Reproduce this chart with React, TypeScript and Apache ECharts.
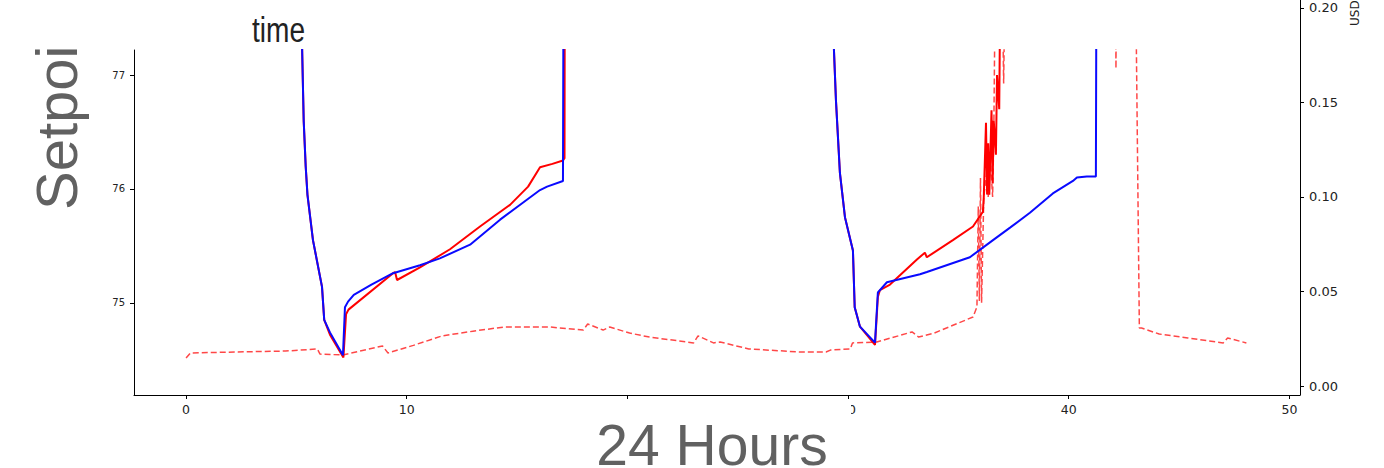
import React, { useEffect, useRef } from 'react';
import * as echarts from 'echarts';

// ---- tick values ----
const xTicks = [0, 10, 20, 30, 40, 50];
const xLabelTicks = [0, 10, 30, 40, 50];
const leftTicks = [75, 76, 77];
const rightTicks = [0, 0.05, 0.1, 0.15, 0.2];

// ---- series: [hour, setpoint °F]  (79 = beyond the top of the view) ----
const blueSetpoint: number[][] = [
  [0, 79], [5.2, 79], [5.26, 77.22], [5.33, 76.6], [5.42, 76.2], [5.5, 75.95], [5.75, 75.55], [6.0, 75.3],
  [6.16, 75.14], [6.26, 74.85], [6.52, 74.74], [7.11, 74.54], [7.2, 74.96], [7.34, 75.01],
  [7.6, 75.07], [8.4, 75.16], [9.38, 75.26], [10.6, 75.33], [11.5, 75.39], [12.87, 75.51], [14.23, 75.73],
  [15.2, 75.87], [16.04, 75.99], [16.36, 76.02], [17.08, 76.07], [17.12, 79], [29.22, 79],
  [29.36, 77.22], [29.45, 76.78], [29.63, 76.14], [29.86, 75.75], [30.22, 75.46], [30.3, 74.96],
  [30.54, 74.79], [31.22, 74.65], [31.35, 75.09], [31.76, 75.18], [33.26, 75.25], [33.57, 75.27],
  [35.52, 75.4], [36.43, 75.53], [37.34, 75.66], [38.24, 75.79], [39.28, 75.96], [40.19, 76.07],
  [40.37, 76.1], [40.82, 76.11], [41.23, 76.11], [41.27, 79], [48.05, 79],
];

const redSetpoint: number[][] = [
  [0, 79], [5.2, 79], [5.26, 77.22], [5.33, 76.6], [5.42, 76.2], [5.5, 75.95], [5.75, 75.55], [6.0, 75.3],
  [6.16, 75.14], [6.26, 74.85], [6.52, 74.72], [7.13, 74.52], [7.25, 74.9], [7.36, 74.94],
  [9.38, 75.26], [9.47, 75.27], [9.56, 75.2], [10.6, 75.31], [11.96, 75.47], [13.32, 75.67],
  [14.68, 75.86], [15.5, 76.02], [16.04, 76.19], [16.6, 76.22], [17.08, 76.25], [17.15, 76.27], [17.17, 79],
  [29.22, 79], [29.36, 77.22], [29.45, 76.78], [29.63, 76.14], [29.86, 75.75], [30.22, 75.46],
  [30.3, 74.96], [30.54, 74.79], [31.22, 74.63], [31.35, 75.05], [31.44, 75.11], [31.9, 75.16],
  [33.12, 75.38], [33.48, 75.44], [33.57, 75.4], [34.75, 75.55], [35.66, 75.67], [36.11, 75.8],
  [36.15, 75.93], [36.25, 76.58], [36.3, 75.95], [36.35, 76.4], [36.4, 75.95], [36.5, 76.69],
  [36.55, 76.05], [36.6, 76.6], [36.7, 76.3], [36.75, 77.0], [36.85, 76.7], [36.95, 79], [48.05, 79],
];

// ---- series: [hour, price USD] (0.25 = beyond the top of the view) ----
const priceUsd: number[][] = [
  [0, 0.0148], [0.2, 0.0175], [2.3, 0.018], [4.5, 0.0185], [5.95, 0.0196], [6.07, 0.0169],
  [7.1, 0.0164], [8.9, 0.0212], [9.15, 0.0175], [10.3, 0.0215], [11.6, 0.0265], [13.0, 0.029],
  [14.4, 0.0312], [16.5, 0.0312], [18.0, 0.0296], [18.2, 0.0328], [18.9, 0.0296], [19.2, 0.0312],
  [20.1, 0.028], [21.0, 0.0259], [23.0, 0.0228], [23.2, 0.0265], [23.9, 0.0228], [24.2, 0.0233],
  [25.5, 0.0196], [27.8, 0.018], [29.0, 0.018], [29.2, 0.019], [30.1, 0.0196], [30.2, 0.0228],
  [31.3, 0.0233], [32.9, 0.0286], [33.2, 0.0259], [33.9, 0.028], [35.66, 0.0365], [35.84, 0.0418],
  [35.9, 0.095], [35.95, 0.045], [36.0, 0.11], [36.05, 0.044], [36.15, 0.1], [36.3, 0.115],
  [36.35, 0.1], [36.45, 0.12], [36.55, 0.1], [36.6, 0.13], [36.7, 0.25], [36.95, 0.25],
  [37.05, 0.16], [37.15, 0.25], [42.1, 0.25], [42.14, 0.168], [42.18, 0.25], [43.0, 0.25],
  [43.2, 0.0307], [43.3, 0.0307], [44.1, 0.0275], [45.4, 0.0254], [47.0, 0.0228], [47.2, 0.0254],
  [48.05, 0.0228],
];

const TICK_FONT = "'DejaVu Sans', sans-serif";
const axisColor = '#000';
const labelColor = '#222';

export default function App() {
  const ref = useRef<HTMLDivElement>(null);
  useEffect(() => {
    const chart = echarts.init(ref.current!, null, { renderer: 'svg' });
    const option: any = {
      animation: false,
      backgroundColor: '#fff',
      grid: [
        { left: 134, right: 84, top: 50, bottom: 73 },
        { left: 134, right: 84, top: 0, bottom: 73 },
      ],
      xAxis: [
        {
          gridIndex: 0, type: 'value', min: -2.36, max: 50.48,
          axisLine: { show: true, onZero: false, lineStyle: { color: axisColor, width: 1 } },
          axisTick: { show: true, length: 4, customValues: xTicks, lineStyle: { color: axisColor } },
          axisLabel: { customValues: xLabelTicks, fontSize: 12.5, color: labelColor, margin: 8, fontFamily: TICK_FONT },
          splitLine: { show: false },
        },
        { gridIndex: 1, type: 'value', min: -2.36, max: 50.48, show: false },
      ],
      yAxis: [
        {
          gridIndex: 0, type: 'value', position: 'left', min: 74.19, max: 77.22,
          axisLine: { show: true, onZero: false, lineStyle: { color: axisColor, width: 1 } },
          axisTick: { show: true, length: 4, customValues: leftTicks, lineStyle: { color: axisColor } },
          axisLabel: { customValues: leftTicks, fontSize: 10, color: labelColor, margin: 9, fontFamily: TICK_FONT },
          splitLine: { show: false },
        },
        { gridIndex: 0, type: 'value', position: 'right', min: -0.00476, max: 0.17778, show: false },
        {
          gridIndex: 1, type: 'value', position: 'right', min: -0.00476, max: 0.20423,
          axisLine: { show: true, onZero: false, lineStyle: { color: axisColor, width: 1 } },
          axisTick: { show: true, length: 4, customValues: rightTicks, lineStyle: { color: axisColor } },
          axisLabel: {
            customValues: rightTicks, fontSize: 13, color: labelColor, margin: 9, fontFamily: TICK_FONT,
            formatter: (v: number) => v.toFixed(2),
          },
          splitLine: { show: false },
        },
      ],
      series: [
        {
          type: 'line', xAxisIndex: 0, yAxisIndex: 1, data: priceUsd, symbol: 'none', clip: true,
          lineStyle: { color: '#ff0000', width: 1.5, type: [6, 3], opacity: 0.72 },
          z: 2,
        },
        {
          type: 'line', xAxisIndex: 0, yAxisIndex: 0, data: redSetpoint, symbol: 'none', clip: true,
          lineStyle: { color: '#ff0000', width: 2 }, z: 3,
        },
        {
          type: 'line', xAxisIndex: 0, yAxisIndex: 0, data: blueSetpoint, symbol: 'none', clip: true,
          lineStyle: { color: '#0a0aff', width: 2 }, z: 4,
        },
      ],
      graphic: [
        { type: 'rect', shape: { x: 588, y: 401, width: 263, height: 67 }, style: { fill: '#fff' }, z: 100 },
        {
          type: 'text', z: 101, x: 712, y: 445,
          style: { text: '24 Hours', textAlign: 'center', textVerticalAlign: 'middle', fontSize: 57, lineHeight: 44, fontFamily: "'Liberation Sans', Arial, sans-serif", fill: '#616161' },
        },
        {
          type: 'text', z: 101, x: 56, y: 210, rotation: Math.PI / 2,
          style: { text: 'Setpoi', textAlign: 'left', textVerticalAlign: 'middle', fontSize: 58, fontFamily: "'Liberation Sans', Arial, sans-serif", fill: '#616161' },
        },
        {
          type: 'text', z: 101, x: 278.5, y: 30, scaleX: 0.78,
          style: { text: 'time', textAlign: 'center', textVerticalAlign: 'middle', fontSize: 36, fontFamily: "'Liberation Sans', sans-serif", fill: '#222' },
        },
        {
          type: 'text', z: 101, x: 1355, y: 26, rotation: Math.PI / 2,
          style: { text: 'USD', textAlign: 'left', textVerticalAlign: 'middle', fontSize: 12, fontFamily: TICK_FONT, fill: '#222' },
        },
      ],
    };
    chart.setOption(option);
    return () => chart.dispose();
  }, []);
  return (
    <div
      ref={ref}
      style={{ position: 'fixed', left: 0, top: 0, width: 1384, height: 468, background: '#fff' }}
    />
  );
}
